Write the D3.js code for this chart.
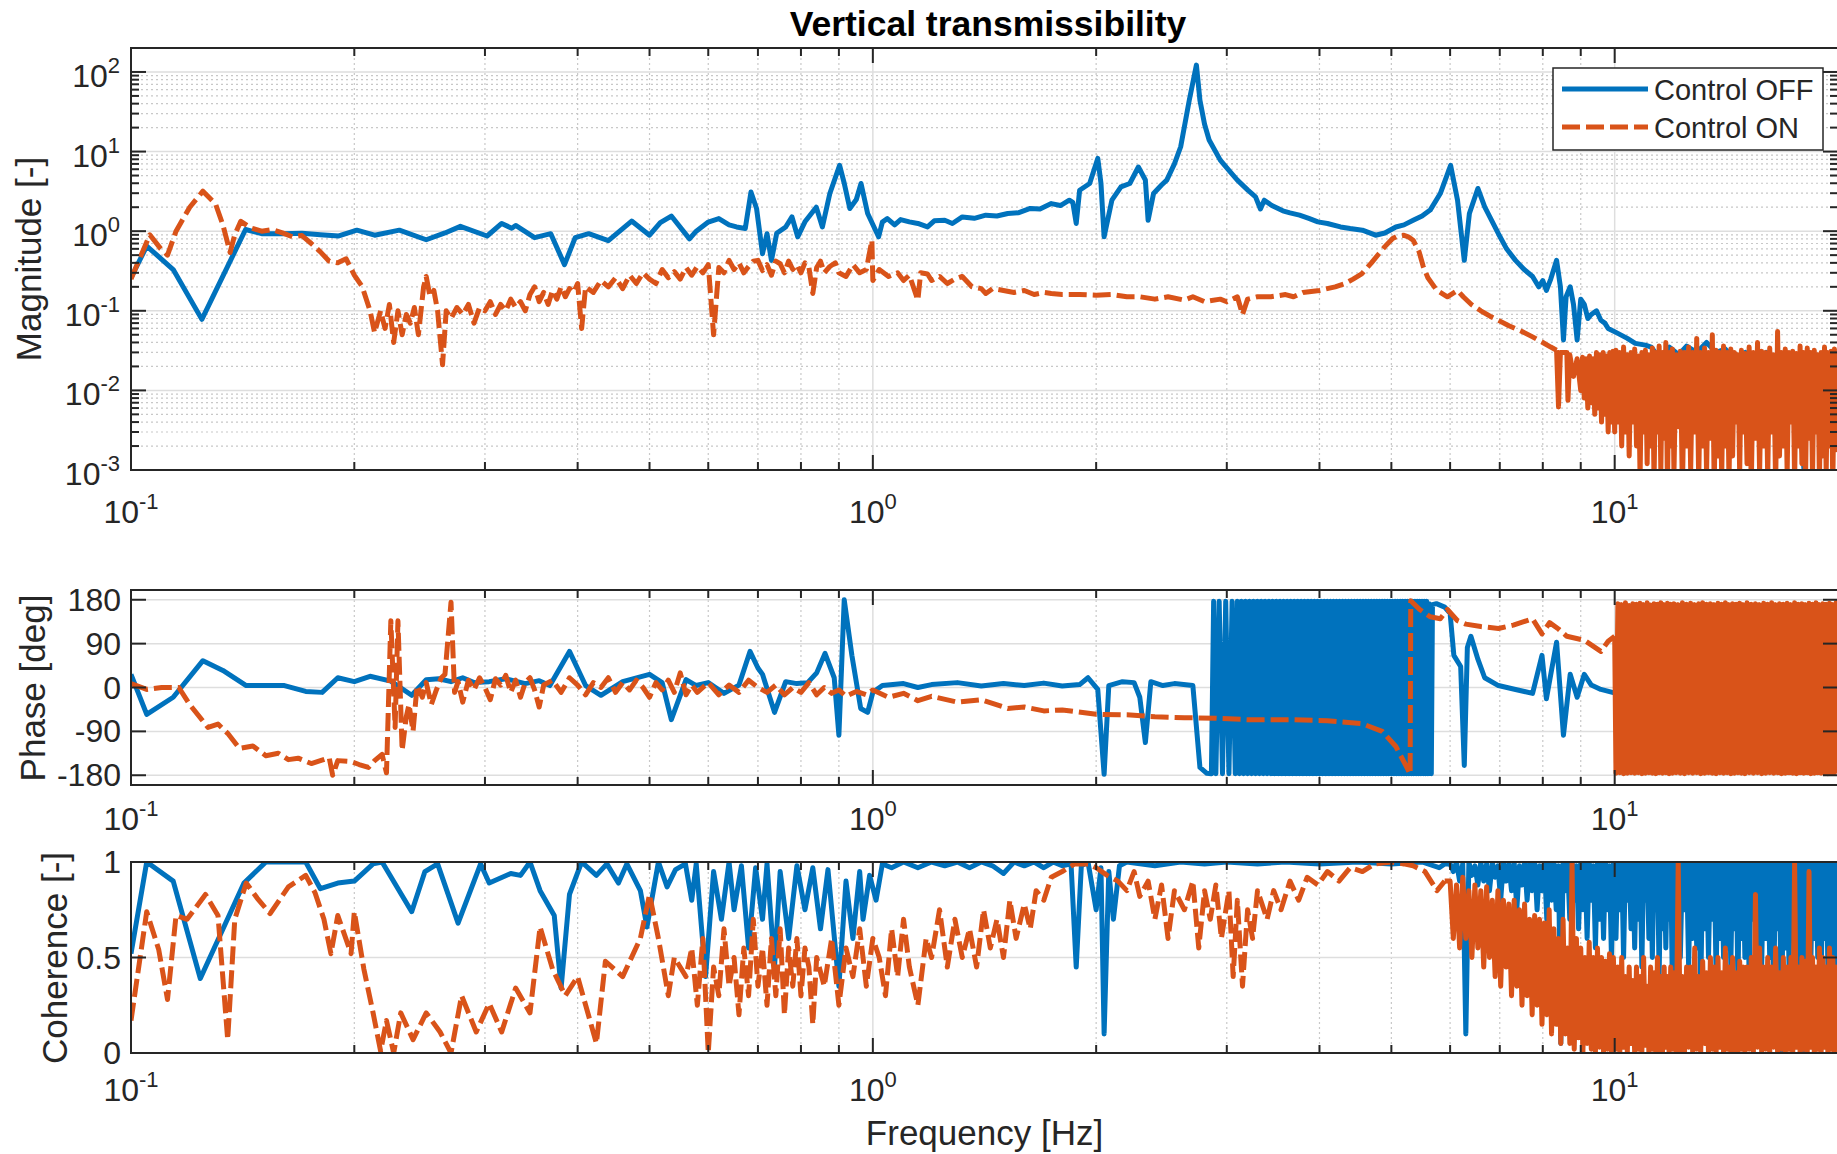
<!DOCTYPE html>
<html><head><meta charset="utf-8">
<script src="https://cdn.jsdelivr.net/npm/d3@7"></script>
<style>
body{margin:0;background:#fff}
text{font-family:"Liberation Sans",Arial,Helvetica,sans-serif;fill:#262626}
</style></head>
<body><svg id="c" width="1837" height="1154"></svg>
<script>
// ---------------- DATA ----------------
const titleText = "Vertical transmissibility";
const seriesNames = ["Control OFF", "Control ON"];
const xLabel = "Frequency [Hz]";
const yLabels = ["Magnitude [-]", "Phase [deg]", "Coherence [-]"];
const xMajorTicks = [0.1, 1, 10];
const xMajorExp = ["-1", "0", "1"];
const xMinorTicks = [0.2,0.3,0.4,0.5,0.6,0.7,0.8,0.9,2,3,4,5,6,7,8,9];
const magMajorTicks = [1e-3,1e-2,1e-1,1,10,100];
const magMajorExp = ["-3","-2","-1","0","1","2"];
const magMinorTicks = [2e-3,3e-3,4e-3,5e-3,6e-3,7e-3,8e-3,9e-3,2e-2,3e-2,4e-2,5e-2,6e-2,7e-2,8e-2,9e-2,0.2,0.3,0.4,0.5,0.6,0.7,0.8,0.9,2,3,4,5,6,7,8,9,20,30,40,50,60,70,80,90];
const phaseTicks = [-180,-90,0,90,180];
const cohTicks = [0,0.5,1];
const cohTickText = ["0","0.5","1"];

// frequency grids of the dense (noisy) parts, Hz
const fMid = [6.0,6.06,6.12,6.18,6.24,6.3,6.36,6.42,6.48,6.54,6.6,6.66,6.72,6.78,6.84,6.9,6.96,7.02,7.08,7.14,7.2,7.26,7.32,7.38,7.44,7.5,7.56,7.62,7.68,7.74,7.8,7.86,7.92,7.98,8.04,8.1,8.16,8.22,8.28,8.34,8.4,8.46,8.52,8.58,8.64,8.7,8.76,8.82,8.88,8.94,9.0,9.06,9.12,9.18,9.24,9.3,9.36,9.42,9.48,9.54,9.6,9.66,9.72,9.78,9.84,9.9,9.96];
const fHi = [10.04,10.1,10.16,10.22,10.28,10.34,10.4,10.46,10.52,10.58,10.64,10.7,10.76,10.82,10.88,10.94,11.0,11.06,11.12,11.18,11.24,11.3,11.36,11.42,11.48,11.54,11.6,11.66,11.72,11.78,11.84,11.9,11.96,12.02,12.1,12.18,12.26,12.34,12.42,12.5,12.58,12.66,12.74,12.82,12.9,12.98,13.06,13.14,13.22,13.3,13.38,13.46,13.54,13.62,13.7,13.78,13.86,13.94,14.02,14.1,14.18,14.26,14.34,14.42,14.5,14.58,14.66,14.74,14.82,14.9,14.98,15.08,15.18,15.28,15.38,15.48,15.58,15.68,15.78,15.88,15.98,16.08,16.18,16.28,16.38,16.48,16.58,16.68,16.78,16.88,16.98,17.08,17.18,17.28,17.38,17.48,17.58,17.68,17.78,17.88,17.98,18.08,18.18,18.28,18.38,18.48,18.58,18.68,18.78,18.88,18.98,19.08,19.18,19.28,19.38,19.48,19.58,19.68,19.78,19.88,19.98];

// Magnitude, Control OFF  [Hz, |T|]
const magOff = [[0.1,0.26],[0.105,0.65],[0.114,0.33],[0.1246,0.078],[0.1427,1.05],[0.15,0.93],[0.16,0.93],[0.17,0.94],[0.18,0.9],[0.1906,0.87],[0.2016,1.03],[0.213,0.89],[0.23,1.03],[0.25,0.78],[0.265,0.95],[0.278,1.15],[0.302,0.87],[0.316,1.25],[0.326,1.09],[0.33,1.18],[0.35,0.83],[0.368,0.93],[0.384,0.38],[0.397,0.83],[0.414,0.93],[0.44,0.76],[0.473,1.34],[0.5,0.89],[0.517,1.28],[0.535,1.55],[0.566,0.8],[0.578,1.0],[0.6,1.3],[0.62,1.44],[0.64,1.2],[0.655,1.13],[0.673,1.08],[0.685,3.1],[0.697,1.93],[0.71,0.52],[0.72,0.93],[0.73,0.43],[0.742,0.94],[0.763,1.13],[0.778,1.51],[0.792,0.85],[0.81,1.31],[0.839,2.0],[0.855,1.13],[0.875,2.97],[0.902,6.7],[0.915,4.0],[0.931,1.93],[0.95,2.5],[0.964,3.97],[0.984,1.67],[1.018,0.85],[1.03,1.3],[1.046,1.44],[1.07,1.2],[1.09,1.4],[1.12,1.31],[1.15,1.25],[1.185,1.13],[1.21,1.35],[1.25,1.37],[1.28,1.25],[1.32,1.51],[1.37,1.45],[1.42,1.59],[1.47,1.55],[1.52,1.67],[1.57,1.7],[1.63,1.93],[1.68,1.9],[1.74,2.22],[1.79,2.1],[1.84,2.45],[1.86,2.3],[1.88,1.25],[1.9,3.27],[1.96,3.97],[2.01,8.2],[2.03,4.0],[2.05,0.85],[2.1,2.45],[2.16,3.6],[2.22,3.97],[2.28,6.4],[2.33,4.4],[2.35,1.37],[2.39,2.97],[2.45,3.8],[2.49,4.38],[2.55,7],[2.6,11.5],[2.67,44],[2.73,122],[2.76,44],[2.8,22],[2.84,14],[2.94,7.8],[3.02,5.8],[3.1,4.38],[3.2,3.3],[3.28,2.7],[3.33,1.9],[3.37,2.45],[3.45,2.1],[3.57,1.8],[3.65,1.7],[3.76,1.59],[3.87,1.45],[3.98,1.31],[4.1,1.25],[4.27,1.13],[4.4,1.08],[4.57,1.03],[4.76,0.89],[4.9,0.95],[5.07,1.13],[5.2,1.2],[5.35,1.37],[5.5,1.55],[5.64,1.84],[5.82,2.97],[6.01,6.7],[6.14,2.45],[6.27,0.43],[6.37,1.67],[6.54,3.44],[6.68,2.02],[6.97,0.93],[7.15,0.6],[7.35,0.43],[7.55,0.33],[7.75,0.27],[7.9,0.2],[8.0,0.24],[8.09,0.18],[8.2,0.25],[8.35,0.43],[8.45,0.2],[8.53,0.043],[8.6,0.15],[8.71,0.2],[8.8,0.12],[8.9,0.043],[9.0,0.14],[9.1,0.12],[9.2,0.08],[9.3,0.09],[9.45,0.1],[9.58,0.076],[9.7,0.07],[9.8,0.06],[10.1,0.052],[10.4,0.045],[10.66,0.039],[11.0,0.037],[11.2,0.035],[11.5,0.025],[11.85,0.035],[12.2,0.028],[12.5,0.036],[12.9,0.03],[13.3,0.04],[13.7,0.03],[14.1,0.033],[14.5,0.025],[15,0.03],[15.5,0.022],[16,0.03],[16.5,0.02],[17,0.028],[17.5,0.015],[18,0.001],[18.3,0.02],[19,0.025],[19.5,0.015],[20,0.02]];

// Magnitude, Control ON (up to 10 Hz) + dense part on fHi
const magOnLow = [[0.1,0.25],[0.106,0.9],[0.1097,0.6],[0.112,0.5],[0.115,1.0],[0.12,2.0],[0.125,3.18],[0.13,2.2],[0.133,1.2],[0.136,0.54],[0.138,0.9],[0.1406,1.33],[0.145,1.1],[0.15,1.0],[0.155,1.05],[0.16,0.95],[0.165,0.85],[0.17,0.88],[0.175,0.7],[0.18,0.55],[0.185,0.42],[0.19,0.4],[0.195,0.45],[0.2,0.28],[0.205,0.2],[0.21,0.1],[0.213,0.053],[0.217,0.1],[0.22,0.06],[0.223,0.12],[0.226,0.04],[0.229,0.1],[0.232,0.05],[0.235,0.09],[0.238,0.07],[0.241,0.11],[0.244,0.05],[0.248,0.2],[0.25,0.27],[0.253,0.15],[0.256,0.18],[0.259,0.1],[0.263,0.021],[0.266,0.1],[0.27,0.08],[0.275,0.11],[0.28,0.09],[0.285,0.12],[0.29,0.07],[0.295,0.11],[0.3,0.1],[0.305,0.13],[0.31,0.09],[0.315,0.12],[0.32,0.1],[0.325,0.14],[0.33,0.11],[0.335,0.13],[0.34,0.1],[0.345,0.16],[0.35,0.2],[0.355,0.13],[0.36,0.17],[0.365,0.12],[0.37,0.18],[0.375,0.14],[0.38,0.2],[0.385,0.15],[0.39,0.19],[0.395,0.17],[0.4,0.22],[0.405,0.06],[0.41,0.2],[0.42,0.17],[0.43,0.24],[0.44,0.2],[0.45,0.26],[0.46,0.19],[0.47,0.28],[0.48,0.22],[0.49,0.3],[0.5,0.25],[0.51,0.22],[0.52,0.33],[0.53,0.26],[0.54,0.31],[0.55,0.25],[0.56,0.35],[0.57,0.28],[0.58,0.36],[0.59,0.3],[0.6,0.38],[0.61,0.05],[0.62,0.35],[0.63,0.3],[0.64,0.43],[0.65,0.33],[0.66,0.4],[0.67,0.3],[0.68,0.36],[0.69,0.42],[0.7,0.43],[0.71,0.32],[0.72,0.38],[0.73,0.28],[0.74,0.42],[0.75,0.39],[0.76,0.3],[0.77,0.42],[0.78,0.33],[0.79,0.38],[0.8,0.3],[0.81,0.4],[0.82,0.35],[0.83,0.165],[0.84,0.35],[0.85,0.42],[0.86,0.3],[0.875,0.36],[0.89,0.4],[0.9,0.3],[0.92,0.27],[0.94,0.38],[0.96,0.3],[0.98,0.33],[0.997,0.77],[1.0,0.24],[1.02,0.33],[1.05,0.27],[1.08,0.3],[1.1,0.24],[1.12,0.28],[1.15,0.136],[1.16,0.3],[1.185,0.29],[1.2,0.24],[1.23,0.27],[1.26,0.22],[1.29,0.25],[1.32,0.27],[1.36,0.2],[1.4,0.19],[1.42,0.165],[1.45,0.19],[1.5,0.18],[1.55,0.17],[1.6,0.18],[1.65,0.16],[1.7,0.17],[1.74,0.165],[1.8,0.16],[1.9,0.16],[2.0,0.157],[2.1,0.16],[2.2,0.15],[2.29,0.15],[2.4,0.14],[2.5,0.15],[2.63,0.136],[2.7,0.15],[2.8,0.13],[2.94,0.14],[3.0,0.13],[3.1,0.15],[3.15,0.09],[3.2,0.14],[3.3,0.15],[3.44,0.15],[3.6,0.16],[3.69,0.15],[3.8,0.17],[4.0,0.18],[4.2,0.2],[4.33,0.22],[4.44,0.25],[4.56,0.29],[4.7,0.4],[4.81,0.52],[4.9,0.64],[5.02,0.81],[5.1,0.87],[5.19,0.89],[5.27,0.85],[5.35,0.77],[5.45,0.55],[5.52,0.36],[5.6,0.26],[5.76,0.18],[5.95,0.15],[6.14,0.18],[6.25,0.15],[6.41,0.12],[6.6,0.1],[6.8,0.085],[6.97,0.076],[7.2,0.065],[7.5,0.055],[7.75,0.047],[8.0,0.04],[8.2,0.035],[8.35,0.032],[8.4,0.0062],[8.45,0.03],[8.62,0.03],[8.65,0.0075],[8.7,0.028],[8.8,0.015],[8.9,0.025],[9.0,0.01],[9.05,0.026],[9.1,0.008],[9.15,0.025],[9.2,0.006],[9.25,0.027],[9.3,0.007],[9.35,0.025],[9.4,0.005],[9.45,0.03],[9.5,0.006],[9.55,0.028],[9.6,0.004],[9.65,0.03],[9.7,0.005],[9.75,0.027],[9.8,0.003],[9.85,0.03],[9.9,0.004],[9.95,0.031],[10.0,0.003]];
const magOnHi = [0.032,0.004,0.03,0.002,0.035,0.003,0.028,0.0015,0.03,0.004,
0.033,0.002,0.027,0.0008,0.03,0.003,0.032,0.0012,0.028,0.002,
0.034,0.0007,0.03,0.003,0.036,0.001,0.03,0.0025,0.04,0.0006,
0.03,0.002,0.033,0.0009,0.028,0.0035,0.031,0.0005,0.03,0.002,
0.035,0.001,0.03,0.003,0.045,0.0007,0.03,0.002,0.034,0.0009,
0.03,0.0025,0.05,0.0006,0.032,0.0015,0.03,0.0008,0.036,0.002,
0.03,0.0007,0.033,0.0015,0.03,0.004,0.028,0.0009,0.032,0.003,
0.029,0.0012,0.035,0.0006,0.03,0.0025,0.04,0.0009,0.031,0.002,
0.03,0.0008,0.034,0.003,0.028,0.0006,0.055,0.0015,0.03,0.002,
0.033,0.0009,0.03,0.004,0.031,0.0007,0.029,0.002,0.036,0.0012,
0.03,0.0006,0.034,0.0025,0.03,0.0008,0.032,0.003,0.028,0.0007,
0.03,0.0015,0.035,0.0009,0.03,0.002,0.031,0.0006,0.033,0.0018,
0.03];

// Phase, Control OFF [Hz, deg]
const phOff = [[0.1,27],[0.105,-55],[0.114,-20],[0.125,55],[0.133,35],[0.143,4],[0.161,4],[0.172,-8],[0.181,-10],[0.19,20],[0.2,12],[0.21,23],[0.224,13],[0.239,-16],[0.25,16],[0.26,18],[0.27,12],[0.28,20],[0.29,10],[0.304,12],[0.32,18],[0.34,8],[0.355,14],[0.367,4],[0.39,74],[0.41,4],[0.43,-16],[0.46,12],[0.5,27],[0.52,10],[0.535,-66],[0.56,16],[0.578,4],[0.6,10],[0.63,-12],[0.66,5],[0.683,74],[0.7,40],[0.71,27],[0.737,-51],[0.763,12],[0.79,8],[0.817,10],[0.84,30],[0.862,70],[0.887,20],[0.9,-98],[0.915,180],[0.937,66],[0.963,-43],[0.984,-51],[1.0,-10],[1.03,4],[1.1,8],[1.15,0],[1.2,6],[1.3,10],[1.4,3],[1.5,8],[1.6,4],[1.7,9],[1.8,3],[1.9,6],[1.95,20],[2.01,-4],[2.05,-178],[2.08,4],[2.17,12],[2.25,10],[2.29,-20],[2.33,-113],[2.37,12],[2.46,4],[2.55,8],[2.7,4],[2.76,-164],[2.82,-176],[2.86,-177],[2.88,177],[2.9,-177],[2.93,177],[2.96,-177],[2.99,177],[3.02,-177],[3.05,177],[3.08,-177],[3.1,177],[3.12,-177],[3.14,177],[3.16,-177],[3.18,177],
[3.2,-177],[3.22,177],[3.24,-177],[3.26,177],[3.28,-177],[3.3,177],[3.32,-177],[3.34,177],[3.36,-177],[3.38,177],[3.4,-177],[3.42,177],[3.44,-177],[3.46,177],[3.48,-177],[3.5,177],[3.52,-177],[3.54,177],[3.56,-177],[3.58,177],[3.6,-177],[3.62,177],[3.64,-177],[3.66,177],[3.68,-177],[3.7,177],[3.72,-177],[3.74,177],[3.76,-177],[3.78,177],[3.8,-177],[3.82,177],[3.84,-177],[3.86,177],[3.88,-177],[3.9,177],[3.92,-177],[3.94,177],[3.96,-177],[3.98,177],
[4.0,-177],[4.02,177],[4.04,-177],[4.06,177],[4.08,-177],[4.1,177],[4.12,-177],[4.14,177],[4.16,-177],[4.18,177],[4.2,-177],[4.22,177],[4.24,-177],[4.26,177],[4.28,-177],[4.3,177],[4.32,-177],[4.34,177],[4.36,-177],[4.38,177],[4.4,-177],[4.42,177],[4.44,-177],[4.46,177],[4.48,-177],[4.5,177],[4.52,-177],[4.54,177],[4.56,-177],[4.58,177],[4.6,-177],[4.62,177],[4.64,-177],[4.66,177],[4.68,-177],[4.7,177],[4.72,-177],[4.74,177],[4.76,-177],[4.78,177],
[4.8,-177],[4.82,177],[4.84,-177],[4.86,177],[4.88,-177],[4.9,177],[4.92,-177],[4.94,177],[4.96,-177],[4.98,177],[5.0,-177],[5.02,177],[5.04,-177],[5.06,177],[5.08,-177],[5.1,177],[5.12,-177],[5.14,177],[5.16,-177],[5.18,177],[5.2,-177],[5.22,177],[5.24,-177],[5.26,177],[5.28,-177],[5.3,177],[5.32,-177],[5.34,177],[5.36,-177],[5.38,177],[5.4,-177],[5.42,177],[5.44,-177],[5.46,177],[5.48,-177],[5.5,177],[5.52,-177],[5.54,177],[5.56,-177],[5.58,177],
[5.6,-177],[5.62,172],[5.66,-177],[5.68,170],[5.75,172],[5.9,165],[6.0,152],[6.07,66],[6.2,43],[6.27,-160],[6.33,82],[6.4,105],[6.54,58],[6.68,20],[6.97,4],[7.35,-4],[7.75,-12],[7.98,66],[8.09,-23],[8.35,93],[8.53,-98],[8.71,27],[8.9,-20],[9.1,27],[9.3,5],[9.58,-4],[10.05,-12],[10.3,-5],[11,-15],[12,-20],[14,10],[16,-5],[18,-10],[20,0]];

// Phase, Control ON (up to 10 Hz) + dense part on fHi
const phOnLow = [[0.1,8],[0.105,-4],[0.11,0],[0.116,0],[0.12,-35],[0.127,-82],[0.131,-75],[0.135,-94],[0.14,-125],[0.146,-120],[0.152,-140],[0.158,-135],[0.163,-148],[0.168,-145],[0.175,-156],[0.18,-150],[0.185,-144],[0.187,-180],[0.19,-150],[0.198,-152],[0.203,-158],[0.209,-164],[0.213,-150],[0.218,-137],[0.221,-175],[0.224,137],[0.227,-82],[0.229,137],[0.232,-129],[0.235,-60],[0.237,-35],[0.24,-90],[0.243,4],[0.247,-20],[0.25,10],[0.254,-35],[0.258,-5],[0.262,20],[0.265,27],[0.27,175],[0.273,-10],[0.276,12],[0.28,-30],[0.285,15],[0.29,-5],[0.295,20],[0.3,0],[0.305,-25],[0.31,18],[0.315,5],[0.32,25],[0.325,-10],[0.33,15],[0.335,-20],[0.34,10],[0.345,20],[0.35,-5],[0.355,-40],[0.36,5],[0.37,15],[0.38,-10],[0.39,20],[0.4,5],[0.41,-15],[0.42,10],[0.43,0],[0.44,20],[0.45,-10],[0.46,10],[0.47,-5],[0.48,15],[0.49,0],[0.5,-20],[0.51,10],[0.52,-5],[0.53,15],[0.54,-10],[0.55,30],[0.56,-15],[0.57,5],[0.58,-10],[0.6,10],[0.62,-15],[0.64,5],[0.66,-10],[0.68,15],[0.7,0],[0.72,-10],[0.74,5],[0.76,-15],[0.78,0],[0.8,-10],[0.82,10],[0.84,-15],[0.86,0],[0.88,-12],[0.9,-5],[0.92,-18],[0.95,-8],[0.98,-15],[1.0,-5],[1.05,-20],[1.1,-12],[1.15,-27],[1.2,-18],[1.3,-30],[1.4,-25],[1.52,-43],[1.6,-40],[1.7,-48],[1.8,-46],[2.0,-55],[2.2,-56],[2.4,-60],[2.63,-62],[2.9,-63],[3.2,-66],[3.47,-66],[3.7,-66],[4.1,-68],[4.56,-74],[4.86,-90],[5.07,-121],[5.23,-160],[5.3,-178],[5.31,178],[5.46,160],[5.64,145],[5.82,141],[5.95,160],[6.14,137],[6.3,130],[6.6,125],[6.97,121],[7.3,128],[7.75,141],[7.98,110],[8.17,133],[8.4,120],[8.62,105],[9.1,97],[9.58,74],[9.8,95],[10.0,105]];
const phOnHi = [-176,172,-175,170,-177,174,-176,168,-175,172,
-176,171,-175,173,-177,170,-176,174,-175,169,
-176,172,-177,171,-175,174,-176,170,-175,173,
-177,171,-176,172,-175,170,-176,174,-177,171,
-175,173,-176,170,-175,172,-177,174,-176,171,
-175,172,-176,170,-177,173,-175,171,-176,174,
-175,170,-177,172,-176,171,-175,173,-176,170,
-177,174,-175,171,-176,172,-175,170,-177,173,
-176,171,-175,174,-176,170,-175,172,-177,171,
-176,173,-175,170,-176,174,-177,171,-175,172,
-176,170,-175,173,-177,171,-176,174,-175,170,
-176,172,-175,171,-177,173,-176,170,-175,174,
-176];

// Coherence, Control OFF (up to 5.9 Hz) + dense parts on fMid and fHi
const cohOffLow = [[0.1,0.52],[0.105,1.0],[0.114,0.9],[0.124,0.39],[0.142,0.89],[0.152,1.0],[0.172,1.0],[0.18,0.86],[0.19,0.89],[0.2,0.9],[0.212,0.99],[0.218,1.0],[0.239,0.74],[0.249,0.95],[0.259,0.99],[0.276,0.68],[0.296,0.99],[0.304,0.89],[0.325,0.94],[0.335,0.93],[0.345,1.0],[0.356,0.85],[0.372,0.72],[0.38,0.34],[0.39,0.83],[0.405,1.0],[0.424,0.93],[0.438,0.99],[0.454,0.89],[0.466,0.99],[0.486,0.85],[0.496,0.66],[0.514,1.0],[0.528,0.87],[0.542,0.96],[0.559,0.99],[0.57,0.8],[0.578,0.99],[0.595,0.4],[0.61,0.95],[0.625,0.7],[0.64,1.0],[0.65,0.75],[0.665,0.98],[0.68,0.55],[0.695,0.97],[0.71,0.7],[0.72,0.99],[0.737,0.45],[0.75,0.95],[0.77,0.6],[0.79,0.98],[0.81,0.75],[0.83,0.97],[0.85,0.65],[0.87,0.96],[0.9,0.35],[0.92,0.9],[0.94,0.6],[0.96,0.95],[0.97,0.7],[0.99,0.93],[1.01,0.8],[1.03,0.99],[1.06,0.97],[1.1,1.0],[1.15,0.97],[1.2,1.0],[1.25,0.98],[1.3,1.0],[1.35,0.97],[1.4,1.0],[1.45,0.98],[1.5,0.94],[1.55,1.0],[1.6,0.98],[1.65,1.0],[1.7,0.97],[1.75,1.0],[1.8,0.98],[1.85,0.99],[1.88,0.45],[1.91,0.98],[1.95,1.0],[2.0,0.75],[2.03,0.97],[2.05,0.1],[2.08,0.95],[2.11,0.7],[2.15,0.98],[2.2,1.0],[2.4,0.98],[2.6,1.0],[2.8,0.99],[3.0,1.0],[3.3,0.99],[3.6,1.0],[4.0,0.99],[4.5,1.0],[5.0,0.99],[5.5,1.0],[5.8,0.97],[5.9,0.99]];
const cohOffMid = [0.99,0.95,1.0,0.9,0.99,0.1,1.0,0.93,0.98,0.88,
1.0,0.9,0.99,0.85,1.0,0.92,0.98,0.8,1.0,0.9,
0.99,0.85,1.0,0.75,0.98,0.88,1.0,0.8,0.99,0.85,
1.0,0.75,0.98,0.85,1.0,0.7,0.99,0.8,1.0,0.75,
0.98,0.05,1.0,0.85,0.99,0.7,1.0,0.8,0.98,0.65,
1.0,0.75,0.99,0.6,1.0,0.8,0.98,0.55,1.0,0.7,
0.99,0.6,1.0,0.75,0.98,0.5,1.0];
const cohOffHi = [0.6,1.0,0.75,1.0,0.5,1.0,0.8,1.0,0.65,1.0,
0.55,1.0,0.7,1.0,0.45,1.0,0.8,1.0,0.6,1.0,
0.5,1.0,0.75,1.0,0.4,1.0,0.65,1.0,0.55,1.0,
0.7,1.0,0.35,1.0,0.6,1.0,0.5,1.0,0.75,1.0,
0.45,1.0,0.6,1.0,0.55,1.0,0.3,1.0,0.65,1.0,
0.5,1.0,0.7,1.0,0.4,1.0,0.6,1.0,0.5,1.0,
0.55,1.0,0.45,1.0,0.65,1.0,0.35,1.0,0.6,1.0,
0.5,1.0,0.4,1.0,0.7,1.0,0.55,1.0,0.45,1.0,
0.6,1.0,0.5,1.0,0.3,1.0,0.65,1.0,0.0,1.0,
0.55,1.0,0.45,1.0,0.6,1.0,0.5,1.0,0.4,1.0,
0.0,1.0,0.55,1.0,0.45,1.0,0.6,1.0,0.5,1.0,
0.35,1.0,0.6,1.0,0.45,1.0,0.55,1.0,0.4,1.0,
0.6];

// Coherence, Control ON (up to 5.9 Hz) + dense parts on fMid and fHi
const cohOnLow = [[0.1,0.17],[0.105,0.74],[0.109,0.54],[0.112,0.28],[0.115,0.72],[0.119,0.7],[0.126,0.83],[0.131,0.72],[0.135,0.07],[0.138,0.7],[0.143,0.89],[0.148,0.81],[0.154,0.73],[0.163,0.87],[0.172,0.93],[0.177,0.84],[0.182,0.7],[0.186,0.52],[0.19,0.72],[0.198,0.52],[0.2,0.74],[0.206,0.44],[0.212,0.21],[0.217,0.01],[0.221,0.17],[0.226,0.0],[0.231,0.21],[0.24,0.07],[0.25,0.21],[0.261,0.11],[0.27,0.0],[0.279,0.3],[0.292,0.11],[0.304,0.26],[0.316,0.11],[0.33,0.34],[0.345,0.21],[0.356,0.66],[0.37,0.44],[0.385,0.3],[0.4,0.4],[0.424,0.05],[0.436,0.48],[0.46,0.4],[0.486,0.6],[0.5,0.83],[0.514,0.6],[0.53,0.3],[0.54,0.5],[0.56,0.4],[0.57,0.55],[0.58,0.25],[0.59,0.6],[0.6,0.0],[0.61,0.45],[0.62,0.3],[0.63,0.65],[0.64,0.35],[0.65,0.5],[0.66,0.2],[0.67,0.55],[0.68,0.3],[0.69,0.7],[0.7,0.35],[0.71,0.55],[0.72,0.25],[0.73,0.6],[0.74,0.3],[0.75,0.65],[0.76,0.2],[0.77,0.55],[0.78,0.35],[0.79,0.6],[0.8,0.3],[0.81,0.55],[0.82,0.45],[0.83,0.15],[0.84,0.5],[0.86,0.35],[0.88,0.6],[0.9,0.25],[0.92,0.55],[0.94,0.4],[0.96,0.65],[0.98,0.35],[1.0,0.6],[1.02,0.5],[1.04,0.3],[1.06,0.65],[1.08,0.4],[1.1,0.7],[1.12,0.45],[1.15,0.25],[1.18,0.6],[1.2,0.5],[1.23,0.75],[1.26,0.45],[1.29,0.7],[1.32,0.5],[1.35,0.65],[1.38,0.45],[1.41,0.75],[1.44,0.55],[1.47,0.7],[1.5,0.5],[1.53,0.8],[1.56,0.6],[1.6,0.78],[1.63,0.65],[1.66,0.85],[1.7,0.8],[1.74,0.92],[1.8,0.95],[1.87,0.99],[1.95,0.99],[2.0,0.97],[2.07,0.93],[2.14,0.9],[2.2,0.85],[2.25,0.95],[2.29,0.82],[2.35,0.9],[2.4,0.7],[2.45,0.88],[2.5,0.6],[2.55,0.85],[2.63,0.75],[2.7,0.9],[2.75,0.55],[2.8,0.85],[2.85,0.7],[2.9,0.88],[2.95,0.6],[3.02,0.85],[3.06,0.4],[3.1,0.8],[3.15,0.35],[3.2,0.75],[3.25,0.6],[3.3,0.85],[3.4,0.7],[3.47,0.85],[3.55,0.75],[3.65,0.9],[3.75,0.8],[3.85,0.92],[3.98,0.88],[4.1,0.95],[4.25,0.9],[4.4,0.97],[4.57,0.95],[4.75,0.99],[5.0,1.0],[5.2,0.99],[5.35,0.98],[5.55,0.95],[5.76,0.85],[5.9,0.9]];
const cohOnMid = [0.9,0.6,0.88,0.55,0.92,0.6,0.85,0.5,0.88,0.55,
0.85,0.45,0.87,0.5,0.8,0.4,0.85,0.35,0.8,0.45,
0.78,0.3,0.8,0.35,0.75,0.25,0.78,0.3,0.7,0.2,
0.72,0.25,0.7,0.15,0.68,0.2,0.75,0.1,0.65,0.15,
0.6,0.05,0.7,0.1,0.55,0.05,1.0,0.02,0.6,0.08,
0.55,0.0,0.5,0.05,0.58,0.02,0.5,0.0,0.55,0.03,
0.5,0.0,0.48,0.02,0.52,0.0,0.5];
const cohOnHi = [0.02,0.45,0.0,0.5,0.03,0.4,0.0,0.45,0.05,0.38,
0.0,0.45,0.02,0.4,0.0,0.5,0.04,0.35,0.0,0.45,
0.02,0.42,0.0,0.5,0.01,0.4,0.0,0.45,0.03,0.4,
0.0,0.45,0.02,0.42,0.0,1.0,0.01,0.4,0.0,0.45,
0.03,0.45,0.0,0.55,0.02,0.4,0.0,0.48,0.05,0.42,
0.0,0.5,0.02,0.45,0.0,0.5,0.03,0.42,0.0,0.55,
0.02,0.45,0.0,0.5,0.01,0.42,0.0,0.48,0.02,0.45,
0.0,0.45,0.02,0.5,0.0,0.83,0.03,0.55,0.0,0.45,
0.02,0.5,0.0,0.45,0.03,0.55,0.0,0.42,0.02,0.5,
0.0,0.45,0.02,0.5,0.0,1.0,0.03,0.45,0.0,0.5,
0.02,0.48,0.0,0.95,0.03,0.5,0.0,0.45,0.02,0.55,
0.0,0.5,0.03,0.45,0.0,0.55,0.02,0.5,0.0,0.45,
0.1];

// ---------------- assemble series ----------------
const zip = (fs, vs) => fs.slice(0, Math.min(fs.length, vs.length)).map((f, i) => [f, vs[i]]);
const magOn = magOnLow.concat(zip(fHi, magOnHi));
const phOn = phOnLow.concat(zip(fHi, phOnHi));
const cohOff = cohOffLow.concat(zip(fMid, cohOffMid), zip(fHi, cohOffHi));
const cohOn = cohOnLow.concat(zip(fMid, cohOnMid), zip(fHi, cohOnHi));

// ---------------- DRAWING ----------------
const svg = d3.select('#c');
const BLUE = '#0072BD', ORANGE = '#D95319', AX = '#262626';
const LW = 5, DASH = '18,6';
const X0 = 131, X1 = 1838;
const x = d3.scaleLog().domain([0.1, 20]).range([X0, X1]);
const byF = arr => arr.slice().sort((a, b) => a[0] - b[0]);
// the dashed line becomes a solid smear where the samples are dense
function splitDense(arr, f0) {
  const s = byF(arr);
  const i = s.findIndex(d => d[0] >= f0);
  return i < 0 ? [s, []] : [s.slice(0, i + 1), s.slice(i)];
}

function supLabel(sel, exp) {
  sel.append('tspan').text('10');
  sel.append('tspan').attr('dy', -14).attr('font-size', 22).text(exp);
}

function drawPanel(id, y, top, bottom, yMajor, yMinor, off, on, denseFrom) {
  const g = svg.append('g');
  svg.append('clipPath').attr('id', 'clip' + id)
    .append('rect').attr('x', X0).attr('y', top).attr('width', X1 - X0).attr('height', bottom - top);
  g.append('g').selectAll('line').data(xMinorTicks).join('line')
    .attr('x1', d => x(d)).attr('x2', d => x(d)).attr('y1', top).attr('y2', bottom)
    .attr('stroke', '#c8c8c8').attr('stroke-width', 1.2).attr('stroke-dasharray', '2,3');
  g.append('g').selectAll('line').data(yMinor).join('line')
    .attr('x1', X0).attr('x2', X1).attr('y1', d => y(d)).attr('y2', d => y(d))
    .attr('stroke', '#c8c8c8').attr('stroke-width', 1.2).attr('stroke-dasharray', '2,3');
  g.append('g').selectAll('line').data(xMajorTicks).join('line')
    .attr('x1', d => x(d)).attr('x2', d => x(d)).attr('y1', top).attr('y2', bottom)
    .attr('stroke', '#dedede').attr('stroke-width', 1.5);
  g.append('g').selectAll('line').data(yMajor).join('line')
    .attr('x1', X0).attr('x2', X1).attr('y1', d => y(d)).attr('y2', d => y(d))
    .attr('stroke', '#dedede').attr('stroke-width', 1.5);
  const line = d3.line().x(d => x(d[0])).y(d => y(d[1]));
  const dg = g.append('g').attr('clip-path', 'url(#clip' + id + ')');
  dg.append('path').datum(byF(off)).attr('d', line).attr('fill', 'none')
    .attr('stroke', BLUE).attr('stroke-width', LW).attr('stroke-linejoin', 'round');
  const [onSparse, onDense] = splitDense(on, denseFrom);
  dg.append('path').datum(onSparse).attr('d', line).attr('fill', 'none')
    .attr('stroke', ORANGE).attr('stroke-width', LW).attr('stroke-linejoin', 'round')
    .attr('stroke-dasharray', DASH);
  dg.append('path').datum(onDense).attr('d', line).attr('fill', 'none')
    .attr('stroke', ORANGE).attr('stroke-width', LW).attr('stroke-linejoin', 'round');
  g.append('rect').attr('x', X0).attr('y', top).attr('width', X1 - X0).attr('height', bottom - top)
    .attr('fill', 'none').attr('stroke', AX).attr('stroke-width', 2);
  const tk = g.append('g').attr('stroke', AX).attr('stroke-width', 2);
  const xt = xMajorTicks.map(v => [v, 15]).concat(xMinorTicks.map(v => [v, 8]));
  tk.selectAll('.xb').data(xt).join('line').attr('class', 'xb')
    .attr('x1', d => x(d[0])).attr('x2', d => x(d[0])).attr('y1', bottom).attr('y2', d => bottom - d[1]);
  tk.selectAll('.xt').data(xt).join('line').attr('class', 'xt')
    .attr('x1', d => x(d[0])).attr('x2', d => x(d[0])).attr('y1', top).attr('y2', d => top + d[1]);
  const yt = yMajor.map(v => [v, 15]).concat(yMinor.map(v => [v, 8]));
  tk.selectAll('.yl').data(yt).join('line').attr('class', 'yl')
    .attr('y1', d => y(d[0])).attr('y2', d => y(d[0])).attr('x1', X0).attr('x2', d => X0 + d[1]);
  tk.selectAll('.yr').data(yt).join('line').attr('class', 'yr')
    .attr('y1', d => y(d[0])).attr('y2', d => y(d[0])).attr('x1', X1).attr('x2', d => X1 - d[1]);
  return g;
}

const yMag = d3.scaleLog().domain([1e-3, 200]).range([470, 48]);
const g1 = drawPanel('m', yMag, 48, 470, magMajorTicks, magMinorTicks, magOff, magOn, 8.35);
g1.append('g').selectAll('text').data(magMajorTicks).join('text')
  .attr('x', 120).attr('y', d => yMag(d) + 15).attr('text-anchor', 'end').attr('font-size', 32)
  .each(function (d, i) { supLabel(d3.select(this), magMajorExp[i]); });

const yPh = d3.scaleLinear().domain([-200, 200]).range([785, 590]);
const g2 = drawPanel('p', yPh, 590, 785, phaseTicks, [], phOff, phOn, 10.0);
g2.append('g').selectAll('text').data(phaseTicks).join('text')
  .attr('x', 121).attr('y', d => yPh(d) + 11).attr('text-anchor', 'end').attr('font-size', 32)
  .text(d => d);

const yCoh = d3.scaleLinear().domain([0, 1]).range([1053, 862]);
const g3 = drawPanel('c', yCoh, 862, 1053, cohTicks, [], cohOff, cohOn, 5.9);
g3.append('g').selectAll('text').data(cohTicks).join('text')
  .attr('x', 121).attr('y', d => yCoh(d) + 11).attr('text-anchor', 'end').attr('font-size', 32)
  .text((d, i) => cohTickText[i]);

[[470, 523], [785, 830], [1053, 1101]].forEach(([b, base]) => {
  svg.append('g').selectAll('text').data(xMajorTicks).join('text')
    .attr('x', d => x(d)).attr('y', base).attr('text-anchor', 'middle').attr('font-size', 32)
    .each(function (d, i) { supLabel(d3.select(this), xMajorExp[i]); });
});

[[41, 259, yLabels[0]], [45, 688, yLabels[1]], [67, 958, yLabels[2]]].forEach(([lx, ly, t]) => {
  svg.append('text').attr('transform', `translate(${lx},${ly}) rotate(-90)`)
    .attr('text-anchor', 'middle').attr('font-size', 35).text(t);
});
svg.append('text').attr('x', (X0 + X1) / 2).attr('y', 1145).attr('text-anchor', 'middle')
  .attr('font-size', 35).text(xLabel);
svg.append('text').attr('x', 988).attr('y', 36).attr('text-anchor', 'middle')
  .attr('font-size', 35.5).attr('font-weight', 'bold').style('fill', '#000').text(titleText);

const lg = svg.append('g');
lg.append('rect').attr('x', 1553).attr('y', 68).attr('width', 270).attr('height', 82)
  .attr('fill', '#fff').attr('stroke', AX).attr('stroke-width', 1.5);
const legItems = [[seriesNames[0], BLUE, null], [seriesNames[1], ORANGE, DASH]];
lg.selectAll('g.item').data(legItems).join('g').attr('class', 'item')
  .each(function (d, i) {
    const yy = 89 + i * 38;
    const s = d3.select(this);
    s.append('line').attr('x1', 1562).attr('x2', 1648).attr('y1', yy).attr('y2', yy)
      .attr('stroke', d[1]).attr('stroke-width', LW).attr('stroke-dasharray', d[2]);
    s.append('text').attr('x', 1654).attr('y', yy + 10.5).attr('font-size', 29).text(d[0]);
  });
</script>
</body></html>
